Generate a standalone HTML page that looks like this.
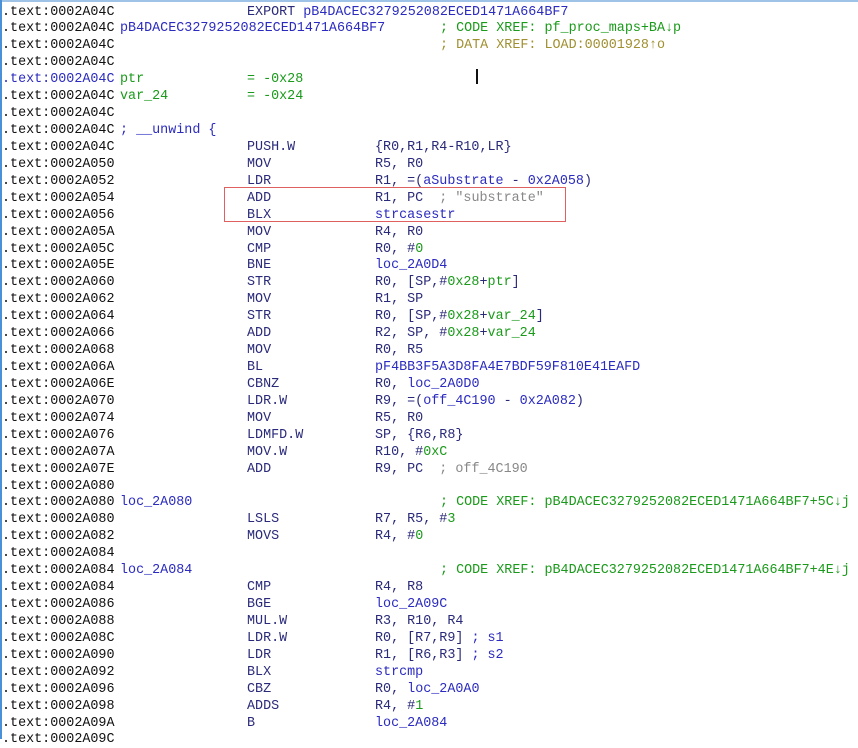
<!DOCTYPE html><html><head><style>
body{margin:0;width:858px;height:739px;background:#fff;overflow:hidden;position:relative;font-family:"Liberation Mono",monospace;font-size:13.4px}
.b{position:absolute;left:0;top:0;width:858px;height:2px;background:#9ec3e6}
.l{position:absolute;left:0;top:0;width:2px;height:739px;background:#4a90d9}
.r{position:absolute;height:17px;left:0;width:858px;white-space:pre;line-height:17px}
.r>span{position:absolute;top:0}
.a{left:2px;color:#111}
.lb{left:120px}.m{left:247px;color:#2a2a7a}.o{left:375px;color:#2a2a7a}.x{left:440px}
.n{color:#2b2bc0}.g{color:#1a9a1a}.y{color:#a09030}.gr{color:#888}.cb{color:#2b2bc0}
</style></head><body>
<div class="b"></div><div class="l"></div>
<div style="position:absolute;left:476px;top:69px;width:2px;height:15px;background:#111"></div>
<div style="position:absolute;left:224px;top:187px;width:342px;height:35px;border:1.5px solid #e06060;box-sizing:border-box"></div>
<div id="c"></div>
<script>
var L=[
['','EXPORT <span class=n>pB4DACEC3279252082ECED1471A664BF7</span>','','',''],
['<span class=n>pB4DACEC3279252082ECED1471A664BF7</span>','','','','<span class=g>; CODE XREF: pf_proc_maps+BA↓p</span>'],
['','','','','<span class=y>; DATA XREF: LOAD:00001928↑o</span>'],
['','','','',''],
['<span class=g>ptr</span>','<span class=g>= -0x28</span>','','','','blue'],
['<span class=g>var_24</span>','<span class=g>= -0x24</span>','','',''],
['','','','',''],
['<span class=n>; __unwind {</span>','','','',''],
['','PUSH.W','{R0,R1,R4-R10,LR}'],
['','MOV','R5, R0'],
['','LDR','R1, =(<span class=n>aSubstrate</span> - <span class=n>0x2A058</span>)'],
['','ADD','R1, PC  <span class=gr>; "substrate"</span>'],
['','BLX','<span class=n>strcasestr</span>'],
['','MOV','R4, R0'],
['','CMP','R0, #<span class=g>0</span>'],
['','BNE','<span class=n>loc_2A0D4</span>'],
['','STR','R0, [SP,#<span class=g>0x28</span>+<span class=g>ptr</span>]'],
['','MOV','R1, SP'],
['','STR','R0, [SP,#<span class=g>0x28</span>+<span class=g>var_24</span>]'],
['','ADD','R2, SP, #<span class=g>0x28</span>+<span class=g>var_24</span>'],
['','MOV','R0, R5'],
['','BL','<span class=n>pF4BB3F5A3D8FA4E7BDF59F810E41EAFD</span>'],
['','CBNZ','R0, <span class=n>loc_2A0D0</span>'],
['','LDR.W','R9, =(<span class=n>off_4C190</span> - <span class=n>0x2A082</span>)'],
['','MOV','R5, R0'],
['','LDMFD.W','SP, {R6,R8}'],
['','MOV.W','R10, #<span class=g>0xC</span>'],
['','ADD','R9, PC  <span class=gr>; off_4C190</span>'],
['','',''],
['<span class=n>loc_2A080</span>','','','','<span class=g>; CODE XREF: pB4DACEC3279252082ECED1471A664BF7+5C↓j</span>'],
['','LSLS','R7, R5, #<span class=g>3</span>'],
['','MOVS','R4, #<span class=g>0</span>'],
['','',''],
['<span class=n>loc_2A084</span>','','','','<span class=g>; CODE XREF: pB4DACEC3279252082ECED1471A664BF7+4E↓j</span>'],
['','CMP','R4, R8'],
['','BGE','<span class=n>loc_2A09C</span>'],
['','MUL.W','R3, R10, R4'],
['','LDR.W','R0, [R7,R9] <span class=cb>; s1</span>'],
['','LDR','R1, [R6,R3] <span class=cb>; s2</span>'],
['','BLX','<span class=n>strcmp</span>'],
['','CBZ','R0, <span class=n>loc_2A0A0</span>'],
['','ADDS','R4, #<span class=g>1</span>'],
['','B','<span class=n>loc_2A084</span>'],
['','','']];
var ad=['2A04C','2A04C','2A04C','2A04C','2A04C','2A04C','2A04C','2A04C','2A04C','2A050','2A052','2A054','2A056','2A05A','2A05C','2A05E','2A060','2A062','2A064','2A066','2A068','2A06A','2A06E','2A070','2A074','2A076','2A07A','2A07E','2A080','2A080','2A080','2A082','2A084','2A084','2A084','2A086','2A088','2A08C','2A090','2A092','2A096','2A098','2A09A','2A09C'];
var h='';
for(var i=0;i<L.length;i++){var e=L[i];var t=(3.5+i*16.93).toFixed(2);
h+='<div class=r style="top:'+t+'px"><span class=a'+(e[5]?' style="color:#2b2bc0"':'')+'>.text:000'+ad[i]+'</span>';
if(e[0])h+='<span class=lb>'+e[0]+'</span>';
if(e[1])h+='<span class=m>'+e[1]+'</span>';
if(e[2])h+='<span class=o>'+e[2]+'</span>';
if(e[4])h+='<span class=x>'+e[4]+'</span>';
h+='</div>';}
document.getElementById('c').innerHTML=h;
</script>
</body></html>
